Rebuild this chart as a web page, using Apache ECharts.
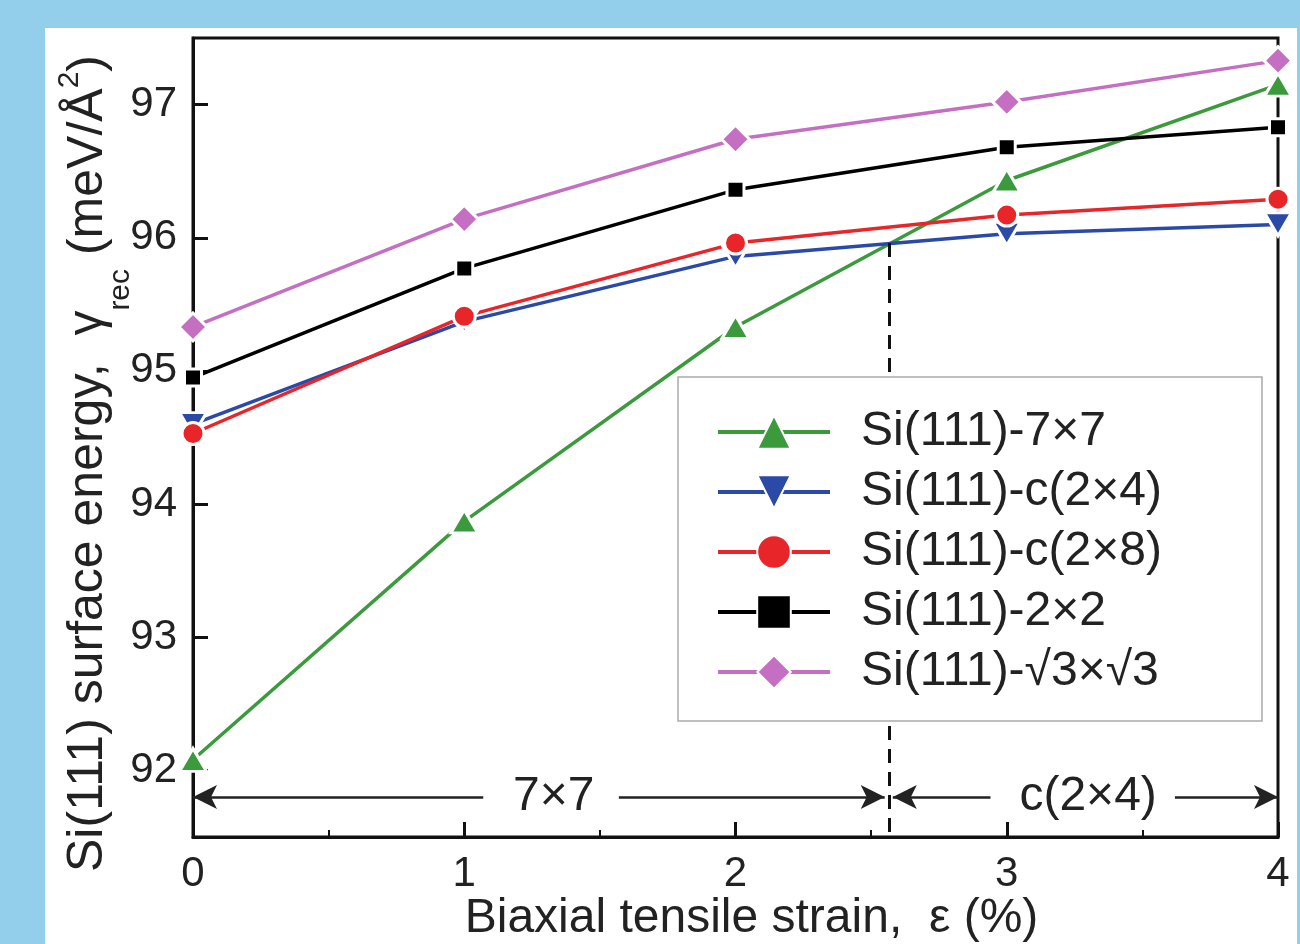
<!DOCTYPE html>
<html>
<head>
<meta charset="utf-8">
<script src="https://cdn.jsdelivr.net/npm/echarts@6/dist/echarts.min.js"></script>
<style>
  html, body { margin: 0; padding: 0; background: #93cfea; }
  #main { width: 1300px; height: 944px; }
</style>
</head>
<body>
<div id="main"></div>
<script>
  // strain (%) and surface energy (meV/A^2)
  var strain = [0, 1, 2, 3, 4];
  var e7x7  = [92.08, 93.87, 95.33, 96.43, 97.15];
  var ec2x4 = [94.60, 95.37, 95.86, 96.03, 96.10];
  var ec2x8 = [94.53, 95.41, 95.96, 96.17, 96.29];
  var e2x2  = [94.95, 95.77, 96.36, 96.68, 96.83];
  var eR3   = [95.33, 96.14, 96.74, 97.02, 97.33];
  var seriesNames = ['Si(111)-7×7', 'Si(111)-c(2×4)', 'Si(111)-c(2×8)', 'Si(111)-2×2', 'Si(111)-√3×√3'];
  var yTickValues = [92, 93, 94, 95, 96, 97];
  var xTickValues = [0, 1, 2, 3, 4];

  // phase boundary annotation (data coords)
  var boundaryX = 2.565;
  var boundaryTop = 95.96;
  var arrowY = 91.8;
  var phaseLabels = ['7×7', 'c(2×4)'];
  var phaseLabelX = [1.33, 3.30];
  var arrowSegs = [[0, 1.07], [1.57, 2.55], [2.58, 2.94], [3.62, 4]];

  function pairs(ys) {
    return strain.map(function (x, i) { return [x, ys[i]]; });
  }

  var font = 'Liberation Sans, Arial, sans-serif';
  var textColor = '#222';

  var myChart = echarts.init(document.getElementById('main'));

  function lineSeries(name, data, color, symbol, size) {
    return {
      name: name,
      type: 'line',
      data: pairs(data),
      symbol: symbol,
      symbolSize: size,
      lineStyle: { color: color, width: 3.5 },
      itemStyle: { color: color, borderColor: '#fff', borderWidth: 3 },
      emphasis: { disabled: true },
      z: 3
    };
  }

  var option = {
    backgroundColor: '#93cfea',
    animation: false,
    textStyle: { fontFamily: font },
    graphic: [{
      type: 'rect',
      z: -10,
      shape: { x: 45, y: 28, width: 1252, height: 920 },
      style: { fill: '#fff' }
    }],
    grid: {
      left: 193,
      right: 22,
      top: 38,
      bottom: 107,
      outerBoundsMode: 'none',
      show: true,
      backgroundColor: '#fff',
      borderColor: '#111',
      borderWidth: 3
    },
    legend: {
      data: seriesNames,
      orient: 'vertical',
      left: 678,
      top: 377,
      z: 8,
      itemWidth: 112,
      itemHeight: 42,
      itemGap: 10,
      padding: [30, 100, 24, 38],
      borderColor: '#aaa',
      borderWidth: 1.5,
      backgroundColor: '#fff',
      lineStyle: { width: 4 },
      textStyle: { fontSize: 48, lineHeight: 50, color: textColor, fontFamily: font, padding: [0, 0, 0, 26] }
    },
    xAxis: {
      type: 'value',
      min: 0,
      max: 4,
      interval: 1,
      name: 'Biaxial tensile strain,  ε (%)',
      nameLocation: 'middle',
      nameGap: 58,
      nameMoveOverlap: false,
      nameTextStyle: { fontSize: 48, color: textColor, padding: [0, 0, 0, 32] },
      axisLine: { lineStyle: { color: '#111', width: 3 } },
      axisTick: { inside: true, length: 15, lineStyle: { color: '#111', width: 3 }, customValues: xTickValues },
      minorTick: { show: true, splitNumber: 2, length: 7, lineStyle: { color: '#111', width: 2 } },
      axisLabel: { fontSize: 42, color: textColor, margin: 16, customValues: xTickValues },
      splitLine: { show: false }
    },
    yAxis: {
      type: 'value',
      min: 91.5,
      max: 97.5,
      name: '{t|Si(111) surface energy,  γ}{sub|rec}{t| (meV/Å}{sup|2}{t|)}{pad| }',
      nameLocation: 'middle',
      nameRotate: 90,
      nameGap: 57,
      nameMoveOverlap: false,
      nameTextStyle: {
        color: textColor,
        rich: {
          pad: { width: 52, fontSize: 10, lineHeight: 10 },
          t: { fontSize: 50, lineHeight: 96, color: textColor, fontFamily: font },
          sub: { fontSize: 30, lineHeight: 28, verticalAlign: 'bottom', color: textColor, fontFamily: font },
          sup: { fontSize: 30, height: 60, lineHeight: 60, verticalAlign: 'top', color: textColor, fontFamily: font }
        }
      },
      axisLine: { show: true, lineStyle: { color: '#111', width: 3 } },
      axisTick: { show: true, inside: true, length: 15, lineStyle: { color: '#111', width: 3 }, customValues: yTickValues },
      axisLabel: { fontSize: 42, color: textColor, margin: 16, customValues: yTickValues },
      splitLine: { show: false }
    },
    series: [
      lineSeries(seriesNames[0], e7x7, '#3a9a3c', 'triangle', [27, 23]),
      lineSeries(seriesNames[1], ec2x4, '#2b4aa8', 'path://M0,0 L10,0 L5,9 Z', [27, 23]),
      lineSeries(seriesNames[2], ec2x8, '#e8262a', 'circle', 22),
      lineSeries(seriesNames[3], e2x2, '#000000', 'rect', 17),
      lineSeries(seriesNames[4], eR3, '#c46fc2', 'diamond', [28, 28]),
      {
        name: 'phase',
        type: 'line',
        data: [],
        silent: true,
        z: 2,
        markLine: {
          silent: true,
          label: { show: false },
          animation: false,
          data: [
            [{ coord: [boundaryX, boundaryTop], symbol: 'none', lineStyle: { type: [14, 9], width: 3, color: '#111' } },
             { coord: [boundaryX, 91.5], symbol: 'none' }]
          ].concat(arrowSegs.map(function (s, i) {
            var startArrow = (i % 2 === 0);
            return [
              { coord: [s[0], arrowY], symbol: startArrow ? 'arrow' : 'none', symbolSize: [18, 24],
                lineStyle: { type: 'solid', width: 2.5, color: '#222' } },
              { coord: [s[1], arrowY], symbol: startArrow ? 'none' : 'arrow', symbolSize: [18, 24] }
            ];
          }))
        },
        markPoint: {
          silent: true,
          symbol: 'rect',
          symbolSize: 1,
          itemStyle: { color: 'transparent' },
          label: { show: true, position: 'inside', fontSize: 48, color: textColor, fontFamily: font },
          data: phaseLabels.map(function (t, i) {
            return { coord: [phaseLabelX[i], arrowY], value: t, label: { formatter: t } };
          })
        }
      }
    ]
  };

  myChart.setOption(option);
</script>
</body>
</html>
